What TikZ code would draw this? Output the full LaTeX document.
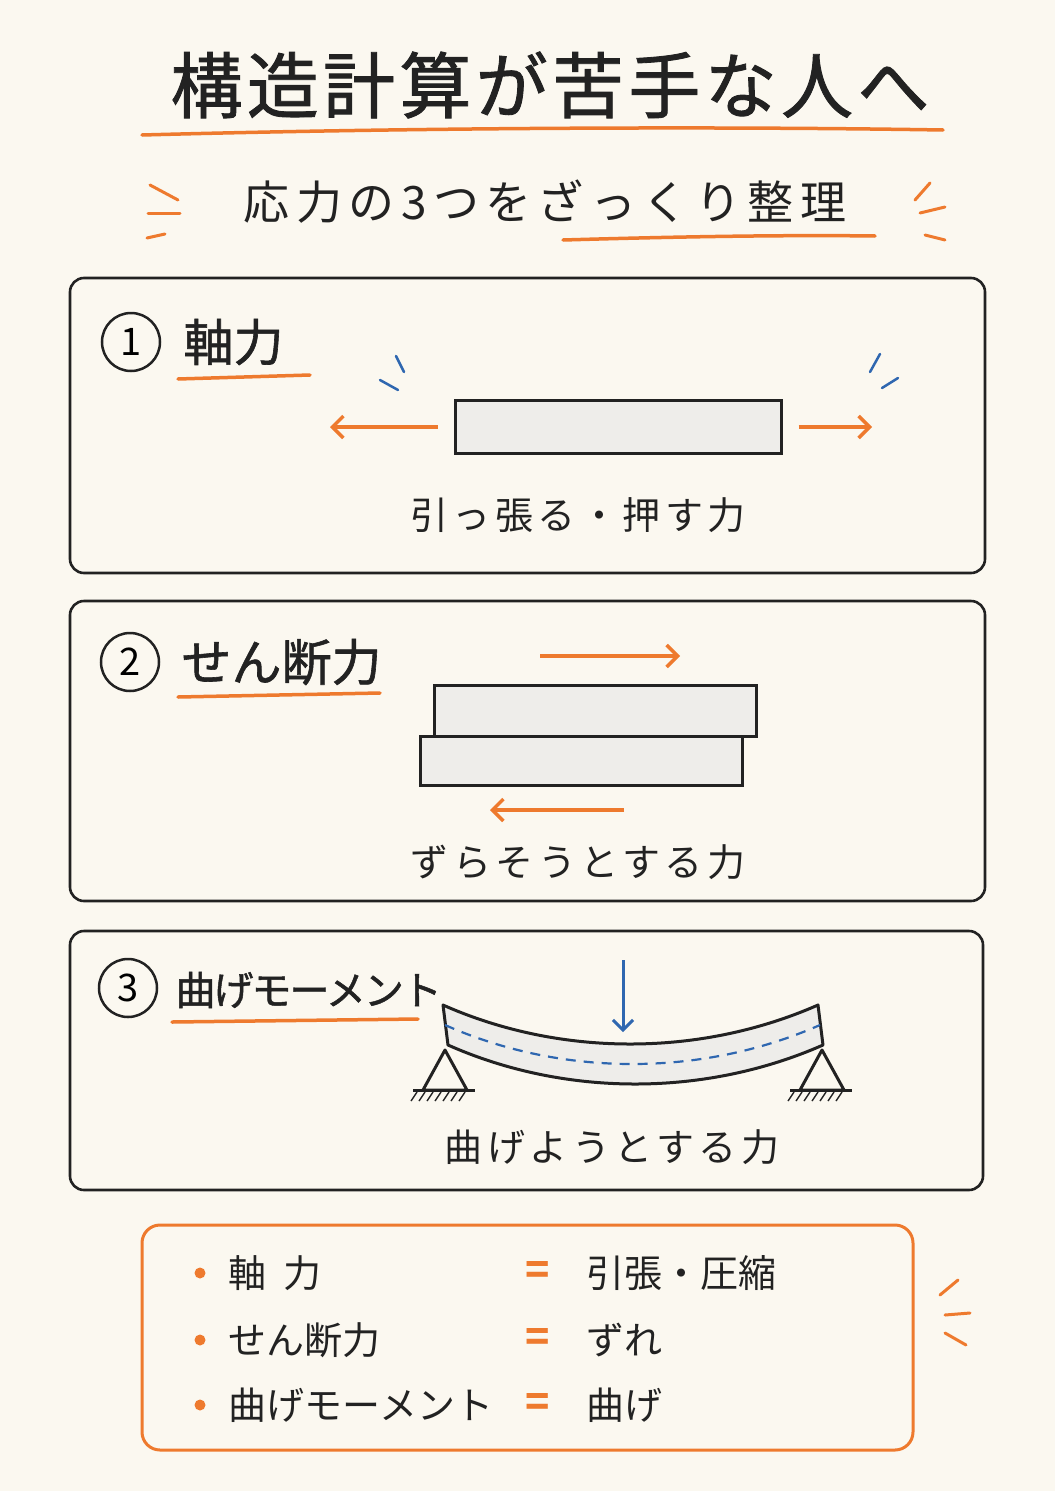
\documentclass[tikz,border=0pt]{standalone}
\usepackage{fontspec}
\setmainfont{Noto Sans CJK JP}
\newfontfamily\headfont[FakeBold=1.2]{Noto Sans CJK JP}
\usetikzlibrary{positioning,arrows.meta,calc,patterns}
\definecolor{paper}{HTML}{FBF8F0}
\definecolor{accent}{HTML}{EE7A2E}
\definecolor{ink}{HTML}{222222}
\definecolor{steel}{HTML}{2F67B0}
\definecolor{block}{HTML}{EEEDEA}
\begin{document}
\begin{tikzpicture}[
    x=1pt, y=-1pt,
    panel/.style={draw=ink, line width=2.6pt, rounded corners=14pt},
    numcirc/.style={circle, draw=ink, line width=2.5pt, minimum size=58pt, inner sep=0pt, font=\fontsize{38}{38}\selectfont},
    head/.style={font=\headfont\fontsize{50}{50}\selectfont, text=ink, anchor=west},
    caption/.style={font=\fontsize{38}{38}\selectfont\addfontfeature{LetterSpace=12}, text=ink},
    rowtext/.style={font=\fontsize{38}{38}\selectfont, text=ink, anchor=west},
    uline/.style={draw=accent, line width=3.5pt, line cap=round},
    force/.style={draw=accent, line width=3.5pt, -{Straight Barb[length=11pt,width=22pt]}},
    spark/.style={draw=accent, line width=3pt, line cap=round},
    tick/.style={draw=steel, line width=2.5pt, line cap=round},
    bar/.style={draw=ink, line width=3pt, fill=block}
]
    % Background
    \fill[paper] (0,0) rectangle (1055,1491);
    \useasboundingbox (0,0) rectangle (1055,1491);

    % Title
    \node[font=\headfont\fontsize{72}{72}\selectfont\addfontfeature{LetterSpace=6}, text=ink] (title) at (550,85) {構造計算が苦手な人へ};
    \draw[uline] (142,135) .. controls (400,128) and (700,126) .. (943,130);

    % Subtitle
    \node[font=\fontsize{46}{46}\selectfont\addfontfeature{LetterSpace=14}, text=ink] (sub) at (545,202) {応力の3つをざっくり整理};
    \draw[uline] (563,240) .. controls (700,236) and (800,235) .. (875,236);
    \foreach \a/\b/\c/\d in {150/185/178/200, 148/213/180/213, 147/238/165/234}
        \draw[spark] (\a,\b) -- (\c,\d);
    \foreach \a/\b/\c/\d in {930/183/915/200, 920/213/945/207, 925/235/945/240}
        \draw[spark] (\a,\b) -- (\c,\d);

    % Panel 1
    \draw[panel] (70,278) rectangle (985,573);
    \node[numcirc] (n1) at (131,342) {1};
    \node[head] (h1) at (180,342) {軸力};
    \draw[uline] (178,379) -- (310,375);
    \node[bar, minimum width=326pt, minimum height=53pt, inner sep=0pt] (rod) at (618,427) {};
    \coordinate (pl) at (330,427);
    \coordinate (pr) at (872,427);
    \draw[force] ($(rod.west)+(-16,0)$) -- (pl);
    \draw[force] ($(rod.east)+(16,0)$) -- (pr);
    \draw[tick] (396,356) -- (404,372);
    \draw[tick] (380,380) -- (398,390);
    \draw[tick] (880,354) -- (870,372);
    \draw[tick] (882,388) -- (898,378);
    \node[caption] (c1) at (578,515) {引っ張る・押す力};

    % Panel 2
    \draw[panel] (70,601) rectangle (985,901);
    \node[numcirc] (n2) at (130,662) {2};
    \node[head] (h2) at (178,662) {せん断力};
    \draw[uline] (178,697) -- (380,693);
    \node[bar, minimum width=322pt, minimum height=51pt, inner sep=0pt] (upper) at (595,711) {};
    \node[bar, minimum width=322pt, minimum height=49pt, inner sep=0pt] (lower) at (581,761) {};
    \coordinate (sr) at (680,656);
    \coordinate (sl) at (490,810);
    \draw[force] (540,656) -- (sr);
    \draw[force] (624,810) -- (sl);
    \node[caption] (c2) at (578,862) {ずらそうとする力};

    % Panel 3
    \draw[panel] (70,931) rectangle (983,1190);
    \node[numcirc] (n3) at (128,988) {3};
    \node[head, font=\headfont\fontsize{40}{40}\selectfont\addfontfeature{LetterSpace=-5}] (h3) at (172,990) {曲げモーメント};
    \draw[uline] (172,1022) -- (418,1019);
    % bent beam
    \draw[ink, line width=3pt, fill=block, line join=round]
        (443,1005) .. controls (560,1057) and (700,1057) .. (818,1005)
        -- (823,1045) .. controls (705,1097) and (565,1097) .. (448,1045) -- cycle;
    \draw[steel, line width=2.2pt, dash pattern=on 10pt off 8pt]
        (445,1025) .. controls (562,1077) and (702,1077) .. (820,1025);
    \coordinate (load) at (623,1032);
    \draw[steel, line width=3pt, -{Straight Barb[length=10pt,width=20pt]}] (623,960) -- (load);
    % supports
    \foreach \s in {445,822} {
        \draw[ink, line width=3pt, line join=round] (\s,1050) -- (\s-22,1090) -- (\s+22,1090) -- cycle;
        \draw[ink, line width=3pt] (\s-32,1090) -- (\s+30,1090);
        \foreach \h in {-28,-20,...,24}
            \draw[ink, line width=1.4pt] (\s+\h,1092) -- (\s+\h-6,1101);
    }
    \node[caption] (c3) at (612,1147) {曲げようとする力};

    % Summary
    \draw[draw=accent, line width=3pt, rounded corners=18pt] (142,1225) rectangle (913,1450);
    \foreach \y/\l/\r [count=\i] in {1273/軸\ \ 力/引張・圧縮, 1340/せん断力/ずれ, 1405/曲げモーメント/曲げ} {
        \fill[accent] (200,\y) circle (5.5pt);
        \node[rowtext] (l\i) at (225,\y) {\l};
        \node[font=\fontsize{40}{40}\selectfont\bfseries, text=accent] (eq\i) at (538,\y) {=};
        \node[rowtext] (r\i) at (583,\y) {\r};
    }
    \draw[spark] (940,1295) -- (958,1280);
    \draw[spark] (945,1315) -- (970,1313);
    \draw[spark] (945,1333) -- (966,1345);
\end{tikzpicture}
\end{document}
